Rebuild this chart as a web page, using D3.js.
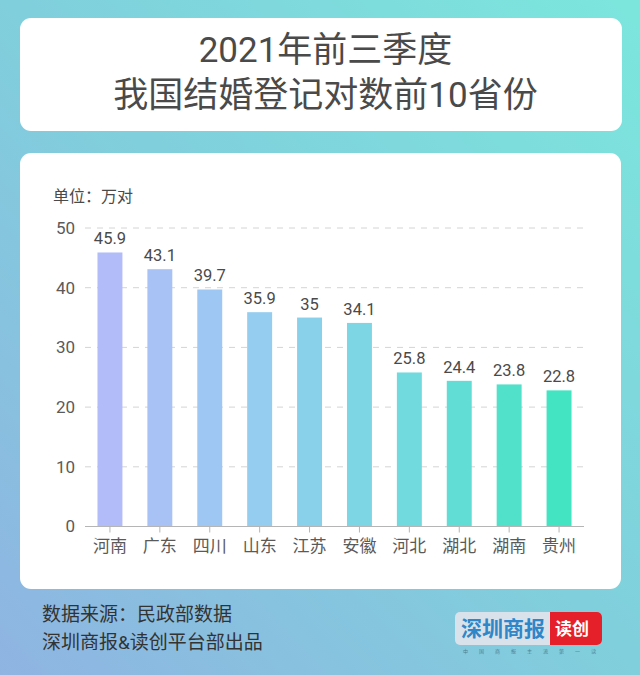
<!DOCTYPE html>
<html>
<head>
<meta charset="utf-8">
<script src="https://cdn.jsdelivr.net/npm/d3@7"></script>
<style>
  html, body { margin: 0; padding: 0; background: #7fd5dc; }
  svg { display: block; }
  text { font-family: Roboto, "Noto Sans CJK SC", sans-serif; }
</style>
</head>
<body>
<div id="chart"></div>
<script>
// chart values
var provinces = ["河南", "广东", "四川", "山东", "江苏", "安徽", "河北", "湖北", "湖南", "贵州"];
var values = [45.9, 43.1, 39.7, 35.9, 35, 34.1, 25.8, 24.4, 23.8, 22.8];
var yTicks = [0, 10, 20, 30, 40, 50];
var titleLines = ["2021年前三季度", "我国结婚登记对数前10省份"];
var sourceLines = ["数据来源：民政部数据", "深圳商报&读创平台部出品"];

var svgWidth = 640;
var svgHeight = 675;

var margin = { top: 228, right: 56, bottom: 148.5, left: 85 };
var width = svgWidth - margin.left - margin.right;
var height = svgHeight - margin.top - margin.bottom;

var fontStack = 'Roboto, "Noto Sans CJK SC", sans-serif';

var svg = d3.select("#chart").append("svg")
  .attr("width", svgWidth)
  .attr("height", svgHeight);

var defs = svg.append("defs");

// page background, blue in the bottom left going to teal in the top right
var bg = defs.append("linearGradient")
  .attr("id", "bg")
  .attr("x1", "0").attr("y1", "1")
  .attr("x2", "1").attr("y2", "0");
bg.append("stop").attr("offset", "0").attr("stop-color", "#8fb4e2");
bg.append("stop").attr("offset", "0.5").attr("stop-color", "#80cfdc");
bg.append("stop").attr("offset", "1").attr("stop-color", "#7ce6dc");

svg.append("rect")
  .attr("width", svgWidth)
  .attr("height", svgHeight)
  .attr("fill", "url(#bg)");

// white panels
svg.append("rect")
  .attr("x", 20).attr("y", 18)
  .attr("width", 602).attr("height", 113)
  .attr("rx", 11)
  .attr("fill", "#fff");

svg.append("rect")
  .attr("x", 20).attr("y", 153)
  .attr("width", 601).attr("height", 436)
  .attr("rx", 11)
  .attr("fill", "#fff");

// title
svg.selectAll(".title")
  .data(titleLines)
  .enter()
  .append("text")
  .attr("class", "title")
  .attr("x", 325.5)
  .attr("y", (d, i) => 62 + i * 45)
  .attr("text-anchor", "middle")
  .attr("font-size", 35)
  .attr("fill", "#4a4a4a")
  .text(d => d);

svg.append("text")
  .attr("x", 53)
  .attr("y", 202)
  .attr("font-size", 16)
  .attr("fill", "#4a4a4a")
  .text("单位：万对");

var chartGroup = svg.append("g")
  .attr("transform", `translate(${margin.left}, ${margin.top})`);

var xScale = d3.scaleBand()
  .domain(provinces)
  .range([0, width])
  .paddingInner(0.5)
  .paddingOuter(0.25);

var yScale = d3.scaleLinear()
  .domain([0, 50])
  .range([height, 0]);

// dashed grid lines
chartGroup.selectAll(".grid")
  .data(yTicks.filter(d => d > 0))
  .enter()
  .append("line")
  .attr("class", "grid")
  .attr("x1", 0)
  .attr("x2", width)
  .attr("y1", d => yScale(d))
  .attr("y2", d => yScale(d))
  .attr("stroke", "#d4d4d4")
  .attr("stroke-dasharray", "6,6");

// bar colours run from periwinkle to green across the categories
var barColor = d3.scaleLinear()
  .domain([0, 3, 6, 9])
  .range(["#b2bcf9", "#95cdf0", "#70dade", "#42e4c2"]);

chartGroup.selectAll(".bar")
  .data(values)
  .enter()
  .append("rect")
  .attr("class", "bar")
  .attr("x", (d, i) => xScale(provinces[i]))
  .attr("y", d => yScale(d))
  .attr("width", xScale.bandwidth())
  .attr("height", d => height - yScale(d))
  .attr("fill", (d, i) => barColor(i));

chartGroup.selectAll(".value")
  .data(values)
  .enter()
  .append("text")
  .attr("class", "value")
  .attr("x", (d, i) => xScale(provinces[i]) + xScale.bandwidth() / 2)
  .attr("y", d => yScale(d) - 8)
  .attr("text-anchor", "middle")
  .attr("font-size", 16.5)
  .attr("fill", "#4a4a4a")
  .text(d => d);

// axes
var bottomAxis = d3.axisBottom(xScale).tickSize(6).tickPadding(7);
var leftAxis = d3.axisLeft(yScale).tickValues(yTicks).tickSize(0).tickPadding(10);

var xAxis = chartGroup.append("g")
  .attr("transform", `translate(0, ${height})`)
  .call(bottomAxis);
xAxis.selectAll("path, line").attr("stroke", "#b5b5b5");
xAxis.select(".domain").attr("d", `M0,0H${width}`);
xAxis.selectAll("text")
  .attr("font-size", 17)
  .attr("font-family", fontStack)
  .attr("fill", "#5a5a5a");

var yAxis = chartGroup.append("g").call(leftAxis);
yAxis.select(".domain").remove();
yAxis.selectAll("text")
  .attr("font-size", 17)
  .attr("font-family", fontStack)
  .attr("fill", "#5a5a5a");

// source note
svg.selectAll(".source")
  .data(sourceLines)
  .enter()
  .append("text")
  .attr("class", "source")
  .attr("x", 42)
  .attr("y", (d, i) => 621 + i * 28)
  .attr("font-size", 19)
  .attr("fill", "#333")
  .text(d => d);

// newspaper logo
var logo = svg.append("g");
logo.append("rect")
  .attr("x", 455).attr("y", 612)
  .attr("width", 147).attr("height", 33)
  .attr("rx", 5)
  .attr("fill", "#d9e2ea");
logo.append("path")
  .attr("d", "M550,612H597a5,5 0 0 1 5,5V640a5,5 0 0 1 -5,5H550Z")
  .attr("fill", "#e5202a");
logo.append("text")
  .attr("x", 503).attr("y", 636)
  .attr("text-anchor", "middle")
  .attr("font-size", 21)
  .attr("font-weight", 700)
  .attr("fill", "#2f86c8")
  .text("深圳商报");
logo.append("text")
  .attr("x", 572).attr("y", 635)
  .attr("text-anchor", "middle")
  .attr("font-size", 17)
  .attr("font-weight", 700)
  .attr("fill", "#fff")
  .text("读创");
logo.append("text")
  .attr("x", 535).attr("y", 653)
  .attr("text-anchor", "middle")
  .attr("font-size", 5)
  .attr("letter-spacing", 11)
  .attr("fill", "#4d7f90")
  .text("中国商报主流第一读");
</script>
</body>
</html>
